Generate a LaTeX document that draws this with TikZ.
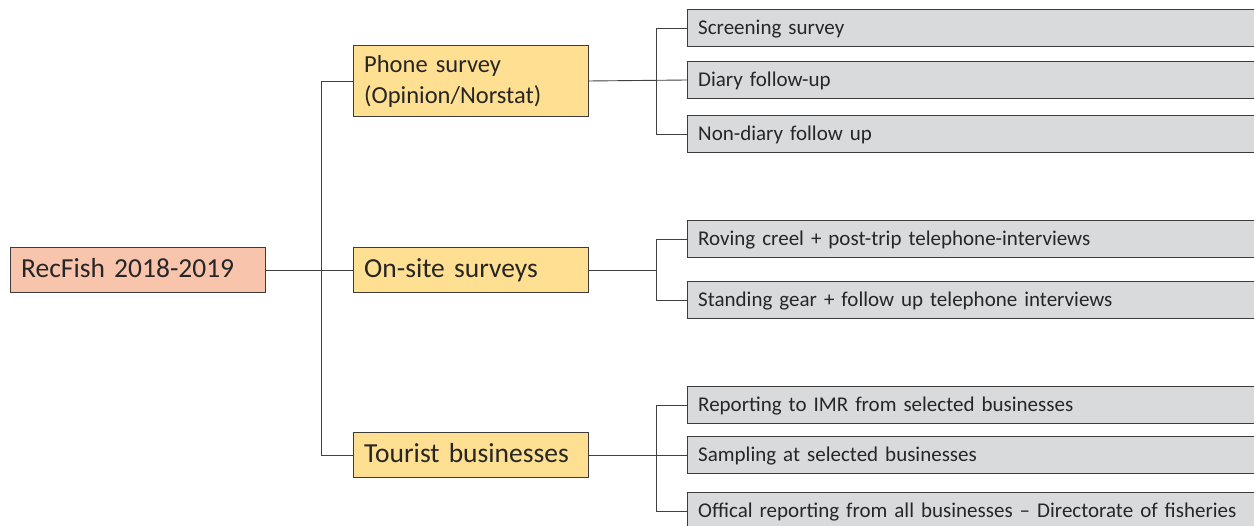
\documentclass[tikz,border=0pt]{standalone}
\usepackage{fontspec}
\setmainfont{Carlito}
\definecolor{salmon}{RGB}{249,196,172}
\definecolor{sand}{RGB}{255,223,145}
\definecolor{pale}{RGB}{217,218,220}
\definecolor{edge}{RGB}{60,60,60}
\tikzset{
  box/.style={draw=edge, anchor=west, inner xsep=11pt, align=left, text=black!85},
  rootbox/.style={box, fill=salmon, minimum width=255pt, minimum height=45pt, text width=233pt, text height=22pt, text depth=6pt, font=\fontsize{27.5}{31}\selectfont},
  mainbox/.style={box, fill=sand, minimum width=235pt, minimum height=45pt, text width=213pt, text height=22pt, text depth=6pt, font=\fontsize{27.5}{31}\selectfont},
  subbox/.style={box, fill=pale, minimum width=620pt, minimum height=37pt, text width=598pt, text height=19pt, text depth=5pt, font=\fontsize{21}{24}\selectfont},
  link/.style={draw=black!75, line width=0.9pt},
}
\begin{document}
\begin{tikzpicture}[x=1pt,y=-1pt]
\useasboundingbox (0,0) rectangle (1254,526);
\clip (0,0) rectangle (1254,526);
\fill [white] (0,0) rectangle (1254,526);

% root and first level
\node [rootbox] (root) at (10,270) {RecFish 2018-2019};
\node [box, fill=sand, minimum width=235pt, minimum height=71pt, text width=213pt, font=\fontsize{24.5}{31}\selectfont] (phone) at (353,81) {Phone survey\\(Opinion/Norstat)};
\node [mainbox] (onsite) at (353,270) {On-site surveys};
\node [mainbox] (tourist) at (353,455) {Tourist businesses};

% second level
\node [subbox] (screen) at (687,28) {Screening survey};
\node [subbox] (diary) at (687,80) {Diary follow-up};
\node [subbox] (nondiary) at (687,134) {Non-diary follow up};
\node [subbox] (roving) at (687,239) {Roving creel + post-trip telephone-interviews};
\node [subbox] (standing) at (687,300) {Standing gear + follow up telephone interviews};
\node [subbox] (imr) at (687,405) {Reporting to IMR from selected businesses};
\node [subbox] (sampling) at (687,455) {Sampling at selected businesses};
\node [subbox] (offical) at (687,511) {Offical reporting from all businesses -- Directorate of fisheries};

% connectors
\draw [link] (root) -- (onsite);
\draw [link] (phone.west) -- ++(-32,0) |- (tourist.west);
\draw [link] (phone.east) -- (diary.west);
\draw [link] (screen.west) -- ++(-31,0) |- (nondiary.west);
\draw [link] (onsite.east) -- ++(68,0);
\draw [link] (roving.west) -- ++(-31,0) |- (standing.west);
\draw [link] (tourist.east) -- (sampling.west);
\draw [link] (imr.west) -- ++(-31,0) |- (offical.west);

\end{tikzpicture}
\end{document}
